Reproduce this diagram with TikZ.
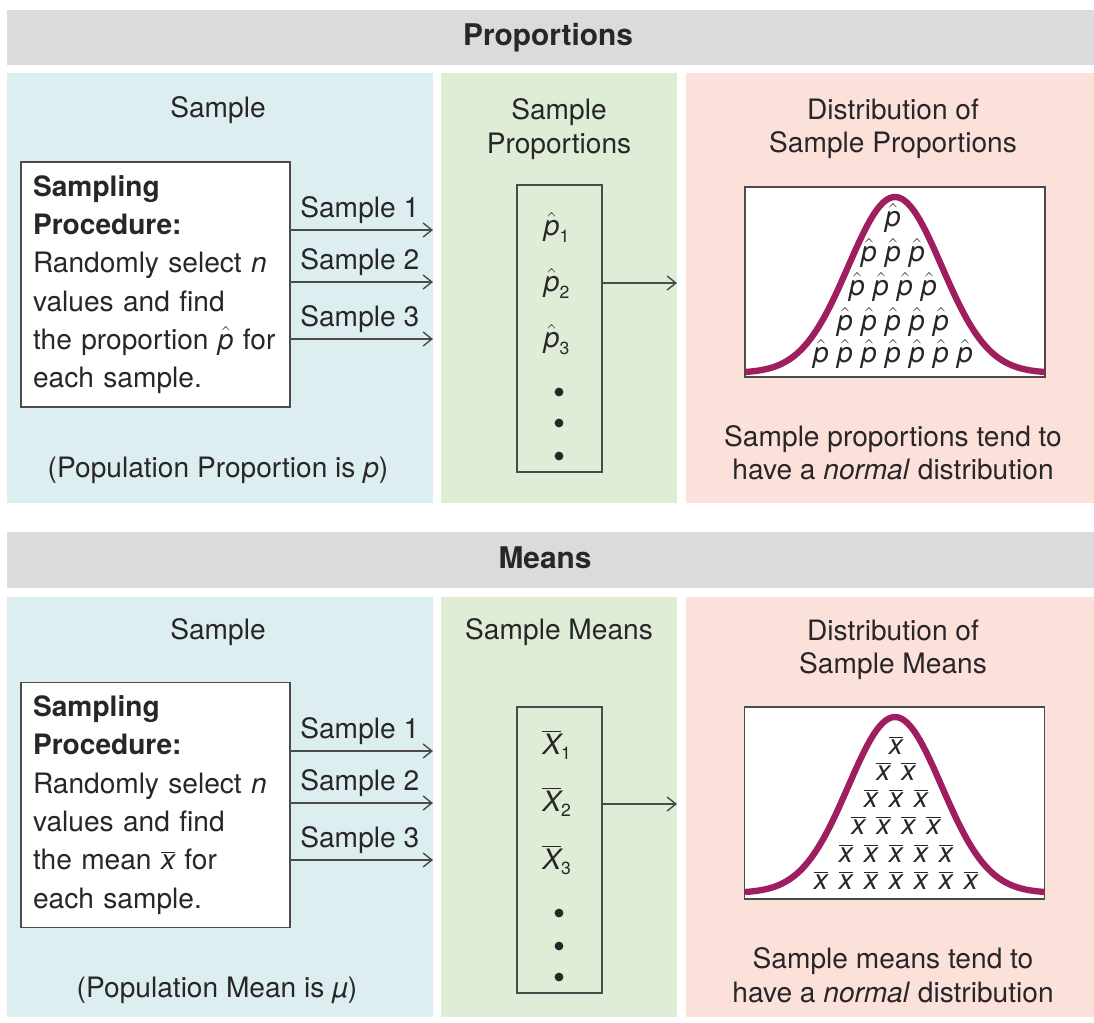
\documentclass[tikz,border=0pt]{standalone}
\usepackage{fontspec}
\setmainfont{TeX Gyre Heros}
\usetikzlibrary{positioning,arrows.meta}

\definecolor{headgray}{RGB}{219,219,221}
\definecolor{panelblue}{RGB}{221,238,241}
\definecolor{panelgreen}{RGB}{223,236,214}
\definecolor{panelpink}{RGB}{252,225,219}
\definecolor{curvered}{RGB}{158,30,96}
\definecolor{inkgray}{RGB}{40,38,40}
\definecolor{linegray}{RGB}{75,75,75}

\newcommand{\phat}{$\hat{\mbox{\itshape p}}$}
\newcommand{\xbar}{$\overline{\mbox{\itshape x}}$}
\newcommand{\phatsub}[1]{$\hat{\mbox{\itshape p}}_{\mbox{\fontsize{10}{10}\selectfont #1}}$}
\newcommand{\Xbarsub}[1]{$\overline{\mbox{\itshape X}}_{\mbox{\fontsize{10}{10}\selectfont #1}}$}

\begin{document}
\begin{tikzpicture}[x=0.02cm, y=-0.02cm,
        font=\fontsize{16}{21.8}\selectfont, text=inkgray,
        every node/.style={inner sep=0pt},
        headtext/.style={font=\fontsize{17}{20}\selectfont\bfseries},
        titletext/.style={align=center, font=\fontsize{16}{19}\selectfont},
        procbox/.style={draw=linegray, line width=0.9pt, fill=white, text width=4.9cm,
            inner xsep=0.24cm, align=left, minimum width=5.38cm, minimum height=4.9cm},
        listbox/.style={draw=linegray, line width=0.9pt, minimum width=1.7cm, minimum height=5.74cm},
        plotbox/.style={draw=linegray, line width=0.8pt, fill=white, minimum width=6cm, minimum height=3.8cm},
        arr/.style={draw=linegray, line width=0.8pt, -{Straight Barb[length=5pt,width=8pt]}},
        bell/.style={curvered, line width=3.6pt},
        dotmark/.style={circle, fill=inkgray, minimum size=5pt}]
        \useasboundingbox (0,0) rectangle (1094,1022);

        % Backgrounds
        \fill[headgray] (7,10) rectangle (1094,65);
        \fill[panelblue] (7,73) rectangle (433,503);
        \fill[panelgreen] (441,73) rectangle (677,503);
        \fill[panelpink] (686,73) rectangle (1094,503);
        \fill[headgray] (7,532) rectangle (1094,588);
        \fill[panelblue] (7,597) rectangle (433,1017);
        \fill[panelgreen] (441,597) rectangle (677,1017);
        \fill[panelpink] (686,597) rectangle (1094,1017);

        % Proportions
        \node[headtext] (propHead) at (548,38) {Proportions};
        \node[titletext] (propSampleT) at (218,110) {Sample};
        \node[titletext] (propListT) at (559,129) {Sample\\Proportions};
        \node[titletext] (propDistT) at (893,129) {Distribution of\\Sample Proportions};

        \node[procbox] (propProc) at (155.5,284.5) {\textbf{Sampling}\\\textbf{Procedure:}\\Randomly select \textit{n}\\values and find\\the proportion \phat{} for\\each sample.};
        \node (propPop) at (218,470) {(Population Proportion is \textit{p})};
        \foreach \i/\y in {1/230, 2/282, 3/339} {
            \coordinate (propA\i) at (433,\y);
            \draw[arr] (propProc.east |- propA\i) -- (propA\i);
            \node[anchor=base west] (propS\i) at (300,\y-13) {Sample \i};
        }

        \node[listbox] (propList) at (559.5,328.5) {};
        \foreach \i/\y in {1/227, 2/283, 3/340}
            \node (propP\i) at (557,\y) {\phatsub{\i}};
        \foreach \i/\y in {1/392, 2/423, 3/456}
            \node[dotmark] (propDot\i) at (559,\y) {};
        \coordinate (propOut) at (677,283);
        \draw[arr] (propList.east |- propOut) -- (propOut);

        \node[plotbox] (propPlot) at (895,282) {};
        \draw[bell] plot[domain=-3.21:3.21, samples=101] ({895+46.7*\x}, {373-176*exp(-\x*\x/2)});
        \foreach \n/\y [count=\r] in {1/218, 3/253, 4/287, 5/322, 7/354}
            \foreach \k in {1,...,\n}
                \node (propH\r-\k) at ({893+24*(\k-(\n+1)/2)},\y) {\phat};
        \node[titletext] (propNote) at (893,453) {Sample proportions tend to\\have a \textit{normal} distribution};

        % Means
        \node[headtext] (meanHead) at (545,558) {Means};
        \node[titletext] (meanSampleT) at (218,632) {Sample};
        \node[titletext] (meanListT) at (559,632) {Sample Means};
        \node[titletext] (meanDistT) at (893,650) {Distribution of\\Sample Means};

        \node[procbox] (meanProc) at (155.5,805) {\textbf{Sampling}\\\textbf{Procedure:}\\Randomly select \textit{n}\\values and find\\the mean \xbar{} for\\each sample.};
        \node (meanPop) at (217,990) {(Population Mean is \textit{\char"00B5})};
        \foreach \i/\y in {1/751, 2/803, 3/860} {
            \coordinate (meanA\i) at (433,\y);
            \draw[arr] (meanProc.east |- meanA\i) -- (meanA\i);
            \node[anchor=base west] (meanS\i) at (300,\y-13) {Sample \i};
        }

        \node[listbox, minimum height=5.72cm] (meanList) at (559.5,850) {};
        \foreach \i/\y in {1/745, 2/802, 3/860}
            \node (meanX\i) at (557,\y) {\Xbarsub{\i}};
        \foreach \i/\y in {1/913, 2/946, 3/977}
            \node[dotmark] (meanDot\i) at (559,\y) {};
        \coordinate (meanOut) at (677,804);
        \draw[arr] (meanList.east |- meanOut) -- (meanOut);

        \node[plotbox, minimum height=3.84cm] (meanPlot) at (894.5,803) {};
        \draw[bell] plot[domain=-3.21:3.21, samples=101] ({895+46.7*\x}, {893-176*exp(-\x*\x/2)});
        \foreach \n/\y [count=\r] in {1/745, 2/771, 3/798, 4/825, 5/853, 7/880}
            \foreach \k in {1,...,\n}
                \node (meanH\r-\k) at ({896+25*(\k-(\n+1)/2)},\y) {\xbar};
        \node[titletext] (meanNote) at (893,975) {Sample means tend to\\have a \textit{normal} distribution};
    \end{tikzpicture}
\end{document}
